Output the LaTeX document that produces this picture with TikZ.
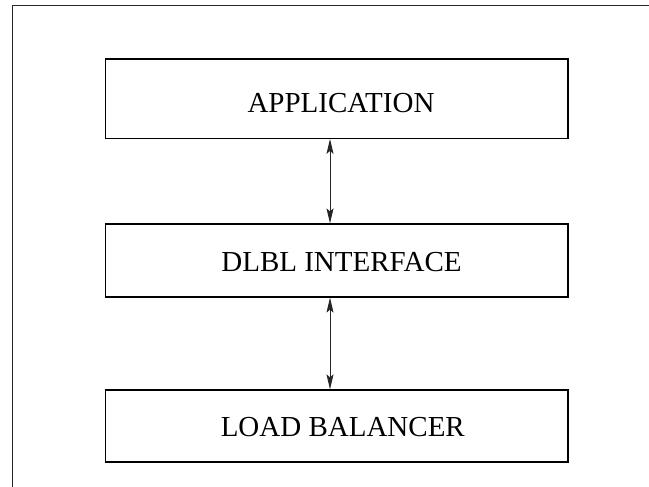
\documentclass[tikz,border=0pt]{standalone}
\usepackage{fontspec}
\setmainfont{Liberation Serif}
\usetikzlibrary{arrows.meta}
\tikzset{
  layerbox/.style={draw=black, line width=1.2bp, rectangle, inner sep=0pt},
  layertext/.style={anchor=base, inner sep=0pt, font=\fontsize{29bp}{34bp}\selectfont},
  frameline/.style={line width=1.1bp, draw=black!85},
  link/.style={line width=0.9bp, draw=black!85,
    {Stealth[length=15bp, width=7bp, inset=3bp]}-{Stealth[length=15bp, width=7bp, inset=3bp]}},
}
\begin{document}
\begin{tikzpicture}[x=1bp, y=-1bp]
  \useasboundingbox (0,0) rectangle (649,487);

  % outer frame (open at right and bottom)
  \coordinate (frameTR) at (649,5.7);
  \coordinate (frameTL) at (12.3,5.7);
  \coordinate (frameBL) at (12.3,487);
  \draw[frameline] (frameTR) -- (frameTL) -- (frameBL);

  % the three layers
  \node[layerbox, minimum width=462.5bp, minimum height=79.3bp] (app) at (336.75,98.65) {};
  \node[layerbox, minimum width=462.5bp, minimum height=73bp] (dlbl) at (336.75,260.5) {};
  \node[layerbox, minimum width=462.5bp, minimum height=72bp] (lb) at (336.75,426) {};

  \node[layertext] (appText) at (341,112.7) {APPLICATION};
  \node[layertext] (dlblText) at (341.5,271) {DLBL INTERFACE};
  \node[layertext] (lbText) at (342.8,436.7) {LOAD BALANCER};

  % two-way links between layers
  \coordinate (linkx) at (330,0);
  \draw[link] (app.south -| linkx) -- (dlbl.north -| linkx);
  \draw[link] (dlbl.south -| linkx) -- (lb.north -| linkx);
\end{tikzpicture}
\end{document}
